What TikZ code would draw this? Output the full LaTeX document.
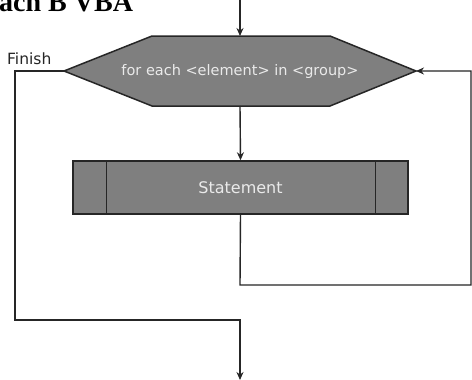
\documentclass[tikz,border=0pt]{standalone}
\usepackage{fontspec}
\setmainfont{Liberation Serif}
\newfontfamily\labelfont{DejaVu Sans}
\usetikzlibrary{arrows.meta}
\definecolor{boxgray}{HTML}{7F7F7F}
\definecolor{boxtext}{HTML}{EAEAEA}
\definecolor{edge}{HTML}{262626}
\begin{document}
\begin{tikzpicture}[x=1pt,y=-1pt,
  line/.style={draw=edge, line width=1.4pt},
  arr/.style={line, -{Stealth[length=8pt,width=7pt]}},
  box/.style={draw=edge, line width=1.5pt, fill=boxgray},
  boxlabel/.style={text=boxtext, font=\labelfont\fontsize{14.5}{17}\selectfont, inner sep=0pt}
]
\clip (0,0) rectangle (472,380);
\fill[white] (0,0) rectangle (472,380);

% title (cut off at the top)
\node[anchor=base west, inner sep=0pt, font=\bfseries\fontsize{28}{30}\selectfont] (title) at (-1,11.5) {ach B VBA};

% hexagon
\draw[box] (64,71) coordinate (hl) -- (152,36) -- (330,36) -- (416,71) coordinate (hr) -- (330,106) -- (152,106) -- cycle;
\coordinate (ht) at (240,36);
\coordinate (hb) at (240,106);
\node[boxlabel] (loop) at (240,71) {for each \textless element\textgreater{} in \textless group\textgreater};

% statement
\node[box, minimum width=335pt, minimum height=53pt, inner sep=0pt] (stmt) at (240.5,187.5) {};
\node[boxlabel, font=\labelfont\fontsize{16}{18}\selectfont] (stext) at (stmt.center) {Statement};
\draw[line] ([xshift=34pt]stmt.north west) -- ([xshift=34pt]stmt.south west);
\draw[line] ([xshift=-33pt]stmt.north east) -- ([xshift=-33pt]stmt.south east);

% label
\node[anchor=base west, inner sep=0pt, text=black!85, font=\labelfont\fontsize{15.5}{17}\selectfont] (fin) at (7,64) {Finish};

% connectors
\coordinate (start) at (240,0);
\coordinate (back1) at (240,285);
\coordinate (back2) at (471,285);
\coordinate (back3) at (471,71);
\coordinate (out1) at (15,71);
\coordinate (out2) at (15,320);
\coordinate (out3) at (240,320);
\coordinate (endpt) at (240,380);

\draw[arr] (start) -- (ht);
\draw[arr] (hb) -- (stmt.north);
\draw[arr] (stmt.south) -- (back1) -- (back2) -- (back3) -- (hr);
\draw[arr] (hl) -- (out1) -- (out2) -- (out3) -- (endpt);
\end{tikzpicture}
\end{document}
